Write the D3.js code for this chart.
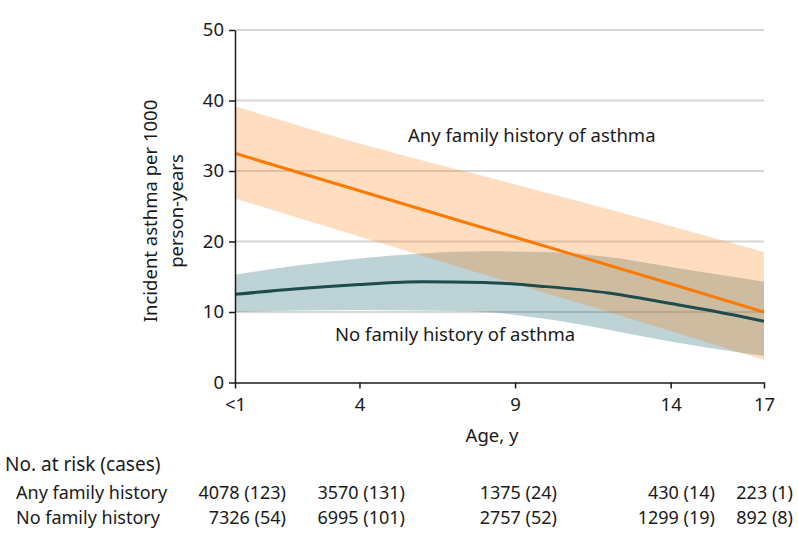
<!DOCTYPE html>
<html><head><meta charset="utf-8">
<script src="https://cdn.jsdelivr.net/npm/d3@7"></script>
<style>body{margin:0;background:#fff}svg{display:block}text{font-family:"Noto Sans",sans-serif;fill:#1a1a1a}</style>
</head><body>
<svg id="c" width="798" height="547"></svg>
<script>
// ---- data ----
const yTicks = [0, 10, 20, 30, 40, 50];
const xTickValues = [0, 4, 9, 14, 17];
const xTickLabels = ["<1", "4", "9", "14", "17"];

const anyAges = [0, 4, 9, 14, 17];
const anyRate = [32.5, 27.2, 20.6, 14.0, 10.0];
const anyUpper = [39.2, 33.9, 28.1, 22.2, 18.5];
const anyLower = [26.1, 20.7, 14.0, 7.3, 3.2];

const noAges = [0, 2, 4, 6, 8, 10, 12, 14, 16, 17];
const noRate = [12.5, 13.3, 13.9, 14.3, 14.2, 13.6, 12.7, 11.2, 9.6, 8.7];
const noUpper = [15.3, 16.6, 17.6, 18.3, 18.6, 18.5, 17.8, 16.4, 15.0, 14.3];
const noLower = [10.0, 10.2, 10.3, 10.2, 10.0, 9.0, 7.5, 5.8, 4.4, 3.8];

const riskRows = ["Any family history", "No family history"];
const riskAny = ["4078 (123)", "3570 (131)", "1375 (24)", "430 (14)", "223 (1)"];
const riskNo = ["7326 (54)", "6995 (101)", "2757 (52)", "1299 (19)", "892 (8)"];

// ---- layout ----
const svg = d3.select("#c");
const x = d3.scaleLinear().domain([0, 17]).range([235, 764]);
const y = d3.scaleLinear().domain([0, 50]).range([382.5, 30]);
const FS = 18;

// grid
svg.append("g").selectAll("line").data(yTicks.filter(d => d > 0)).join("line")
  .attr("x1", x(0)).attr("x2", x(17)).attr("y1", d => y(d)).attr("y2", d => y(d))
  .attr("stroke", "#d6d6d6").attr("stroke-width", 2);

function band(ages, lo, hi) {
  return d3.area().x((d, i) => x(ages[i])).y0((d, i) => y(lo[i])).y1((d, i) => y(hi[i]))
    .curve(d3.curveMonotoneX)(ages);
}
function line(ages, v) {
  return d3.line().x((d, i) => x(ages[i])).y((d, i) => y(v[i])).curve(d3.curveMonotoneX)(ages);
}

svg.append("path").attr("d", band(noAges, noLower, noUpper)).attr("fill", "rgb(40,110,115)").attr("fill-opacity", 0.3);
svg.append("path").attr("d", band(anyAges, anyLower, anyUpper)).attr("fill", "rgb(251,119,3)").attr("fill-opacity", 0.25);
svg.append("path").attr("d", line(noAges, noRate)).attr("fill", "none").attr("stroke", "#1e4b4c").attr("stroke-width", 3);
svg.append("path").attr("d", line(anyAges, anyRate)).attr("fill", "none").attr("stroke", "#fb7a05").attr("stroke-width", 3);

// axes
const yAxis = svg.append("g").attr("transform", `translate(${x(0)},0)`)
  .call(d3.axisLeft(y).tickValues(yTicks).tickSize(6).tickPadding(5).tickSizeOuter(0));
const xAxis = svg.append("g").attr("transform", `translate(0,${y(0)})`)
  .call(d3.axisBottom(x).tickValues(xTickValues).tickFormat((d, i) => xTickLabels[i]).tickSize(6).tickPadding(9).tickSizeOuter(0));
[yAxis, xAxis].forEach(g => {
  g.selectAll("path,line").attr("stroke", "#1a1a1a").attr("stroke-width", 1.5);
  g.selectAll("text").attr("font-size", 18.5).attr("font-family", "Noto Sans").attr("fill", "#1a1a1a");
});

// axis titles
svg.append("text").attr("x", 492).attr("y", 442).attr("text-anchor", "middle").attr("font-size", 18.5).text("Age, y");
const yt = svg.append("text").attr("transform", "translate(157,211) rotate(-90)").attr("text-anchor", "middle").attr("font-size", 18.5);
yt.append("tspan").attr("x", 0).attr("y", 0).text("Incident asthma per 1000");
yt.append("tspan").attr("x", 0).attr("y", 25.5).text("person-years");

// annotations
svg.append("text").attr("x", 408).attr("y", 142).attr("font-size", 18.5).text("Any family history of asthma");
svg.append("text").attr("x", 335).attr("y", 341).attr("font-size", 18.5).text("No family history of asthma");

// risk table
svg.append("text").attr("x", 5).attr("y", 471).attr("font-size", 19).text("No. at risk (cases)");
const rowY = [499, 524];
riskRows.forEach((r, i) => svg.append("text").attr("x", 16).attr("y", rowY[i]).attr("font-size", FS).text(r));
const colRight = [286, 405, 557, 715, 793];
[riskAny, riskNo].forEach((row, i) => {
  svg.append("g").selectAll("text").data(row).join("text")
    .attr("x", (d, j) => colRight[j]).attr("y", rowY[i]).attr("text-anchor", "end").attr("font-size", FS).text(d => d);
});
</script>
</body></html>
